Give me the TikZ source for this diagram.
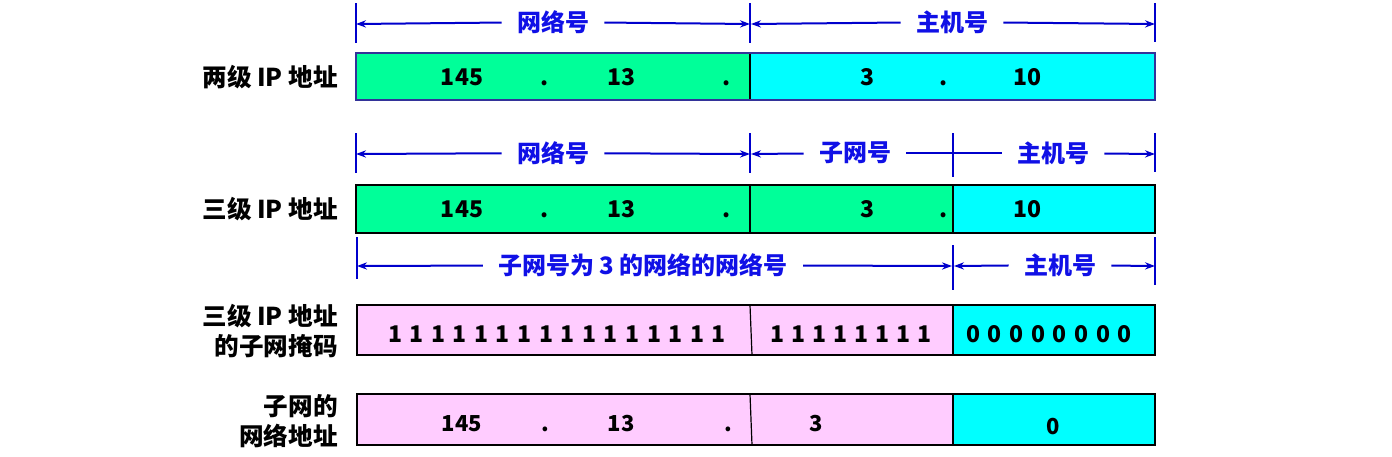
\documentclass[tikz,border=0pt]{standalone}
\usepackage{fontspec}
\setmainfont{Noto Sans CJK SC}
\usetikzlibrary{arrows.meta}
\definecolor{dimblue}{RGB}{0,0,204}
\definecolor{labblue}{RGB}{16,16,230}
\definecolor{netgreen}{RGB}{0,255,153}
\definecolor{hostcyan}{RGB}{0,255,255}
\definecolor{maskpink}{RGB}{255,204,255}
\definecolor{borderone}{RGB}{51,51,153}
\begin{document}
\begin{tikzpicture}[x=0.5pt,y=-0.5pt,
  dim/.style={draw=dimblue,line width=1pt},
  tipr/.style={dim,-{Stealth[length=5pt,width=3.6pt]}},
  tick/.style={draw=dimblue,line width=1.2pt},
  dimlab/.style={text=labblue,font=\bfseries\fontsize{12}{13}\selectfont,inner xsep=7.5pt,inner ysep=2pt},
  rowlab/.style={anchor=east,align=right,font=\bfseries\fontsize{12.3}{14.8}\selectfont,inner sep=0pt},
  num/.style={anchor=base,font=\bfseries\fontsize{11.5}{12}\selectfont,inner sep=0pt},
  numsm/.style={anchor=base,font=\bfseries\fontsize{11}{12}\selectfont,inner sep=0pt},
  frame/.style={draw=black,line width=1.2pt},
  divide/.style={draw=black,line width=1pt},
  thindiv/.style={draw=black,line width=0.6pt}]
\useasboundingbox (0,0) rectangle (1392,456);

% ---------- row 1 ----------
\coordinate (t1l) at (356,24); \coordinate (t1m) at (750,24); \coordinate (t1ml) at (751,24); \coordinate (t1r) at (1155,24);
\draw[tick] (356,3) -- (356,43);
\draw[tick] (750,3) -- (750,43);
\draw[tick] (1155,3) -- (1155,42);
\node[dimlab] (n1) at (553,22) {网络号};
\node[dimlab] (h1) at (952,22) {主机号};
\draw[tipr] (n1) -- (t1l);
\draw[tipr] (n1) -- (t1m);
\draw[tipr] (h1) -- (t1ml);
\draw[tipr] (h1) -- (t1r);

\fill[netgreen] (356,53) rectangle (750,100);
\fill[hostcyan] (750,53) rectangle (1155,100);
\draw[divide] (750,53) -- (750,100);
\draw[draw=borderone,line width=1.2pt] (356,53) rectangle (1155,100);
\node[rowlab] (l1) at (338,77) {两级 IP 地址};
\node[num] (a1) at (462,85) {145};
\node[num] (d1) at (545,85) {.};
\node[num] (b1) at (621,85) {13};
\node[num] (e1) at (727,85) {.};
\node[num] (c1) at (867,85) {3};
\node[num] (f1) at (944,85) {.};
\node[num] (g1) at (1027,85) {10};

% ---------- row 2 ----------
\coordinate (t2l) at (356,154); \coordinate (t2m) at (750,154); \coordinate (t2r) at (1155,154);
\coordinate (t2ml) at (751,154);
\draw[tick] (356,133) -- (356,173);
\draw[tick] (750,133) -- (750,173);
\draw[tick] (953,133) -- (953,177);
\draw[tick] (1155,133) -- (1155,172);
\node[dimlab] (n2) at (553,153) {网络号};
\node[dimlab] (s2) at (855,153) {子网号};
\node[dimlab] (h2) at (1053,153) {主机号};
\draw[tipr] (n2) -- (t2l);
\draw[tipr] (n2) -- (t2m);
\draw[tipr] (s2) -- (t2ml);
\draw[dim] (s2) -- (h2);
\draw[tipr] (h2) -- (t2r);

\fill[netgreen] (356,185) rectangle (953,233);
\fill[hostcyan] (953,185) rectangle (1155,233);
\draw[divide] (750,185) -- (750,233);
\draw[divide] (953,185) -- (953,233);
\draw[frame] (356,185) rectangle (1155,233);
\node[rowlab] (l2) at (338,209) {三级 IP 地址};
\node[num] (a2) at (462,217) {145};
\node[num] (d2) at (545,217) {.};
\node[num] (b2) at (621,217) {13};
\node[num] (e2) at (727,217) {.};
\node[num] (c2) at (867,217) {3};
\node[num] (f2) at (944,217) {.};
\node[num] (g2) at (1027,217) {10};

% ---------- row 3 ----------
\coordinate (t3l) at (357,266); \coordinate (t3m) at (952,266); \coordinate (t3ml) at (954,266); \coordinate (t3r) at (1155,266);
\draw[tick] (357,237) -- (357,279);
\draw[tick] (953,245) -- (953,290);
\draw[tick] (1155,237) -- (1155,285);
\node[dimlab] (n3) at (643,265) {子网号为 3 的网络的网络号};
\node[dimlab] (h3) at (1060,265) {主机号};
\draw[tipr] (n3) -- (t3l);
\draw[tipr] (n3) -- (t3m);
\draw[tipr] (h3) -- (t3ml);
\draw[tipr] (h3) -- (t3r);

\fill[maskpink] (357,305) rectangle (953,355);
\fill[hostcyan] (953,305) rectangle (1155,355);
\draw[thindiv] (750,305) -- (752,355);
\draw[divide] (953,305) -- (953,355);
\draw[frame] (357,305) rectangle (1155,355);
\node[rowlab] (l3) at (338,331) {三级 IP 地址\\ 的子网掩码};
\node[num] (m1) at (557,342) {\hbox to 169pt{1\hfil1\hfil1\hfil1\hfil1\hfil1\hfil1\hfil1\hfil1\hfil1\hfil1\hfil1\hfil1\hfil1\hfil1\hfil1}};
\node[num] (m2) at (851,342) {\hbox to 81pt{1\hfil1\hfil1\hfil1\hfil1\hfil1\hfil1\hfil1}};
\node[num] (m3) at (1049,342) {\hbox to 83pt{0\hfil0\hfil0\hfil0\hfil0\hfil0\hfil0\hfil0}};

% ---------- row 4 ----------
\fill[maskpink] (357,394) rectangle (953,445);
\fill[hostcyan] (953,394) rectangle (1155,445);
\draw[thindiv] (750,394) -- (752,445);
\draw[divide] (953,394) -- (953,445);
\draw[frame] (357,394) rectangle (1155,445);
\node[rowlab] (l4) at (338,421) {子网的\\ 网络地址};
\node[numsm] (a4) at (462,431) {145};
\node[numsm] (d4) at (545,431) {.};
\node[numsm] (b4) at (621,431) {13};
\node[numsm] (e4) at (728,431) {.};
\node[numsm] (c4) at (816,431) {3};
\node[numsm] (g4) at (1053,434) {0};
\end{tikzpicture}
\end{document}
